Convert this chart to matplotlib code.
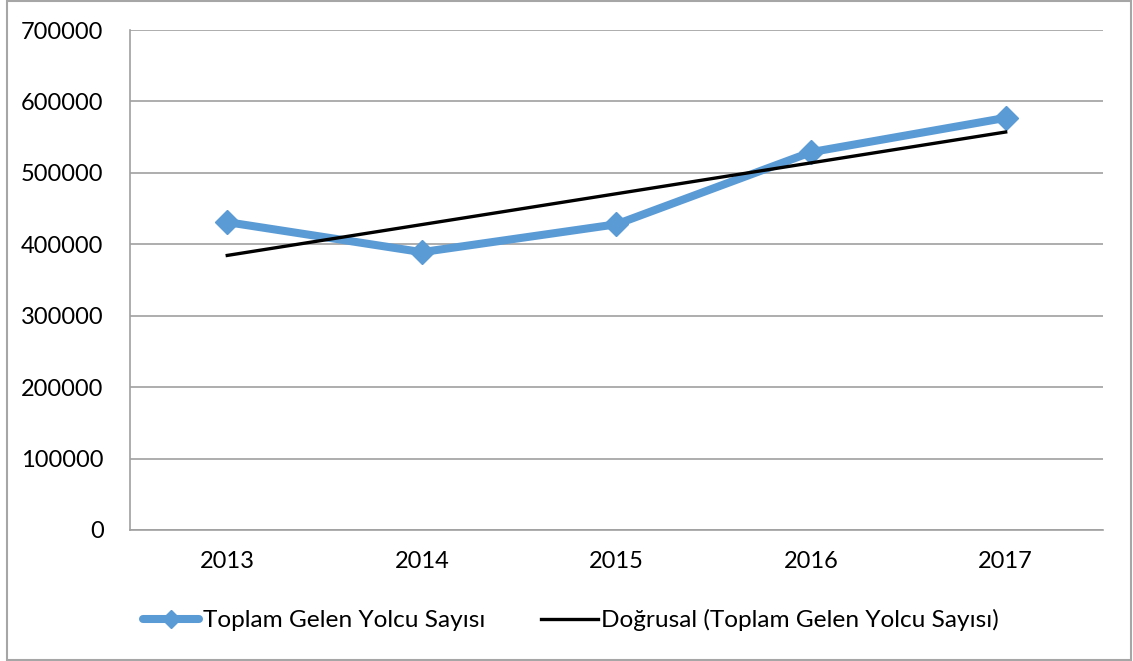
import numpy as np
import matplotlib.pyplot as plt
from matplotlib.patches import Rectangle

plt.rcParams['font.family'] = ['Lato', 'DejaVu Sans']

# Toplam gelen yolcu sayısı, yıllara göre
years = ['2013', '2014', '2015', '2016', '2017']
passengers = [431000, 389000, 428000, 529000, 577000]

x = np.arange(len(years))
# Doğrusal eğilim çizgisi (en küçük kareler)
slope, intercept = np.polyfit(x, passengers, 1)
trend = slope * x + intercept

fig = plt.figure(figsize=(11.33, 6.61), dpi=100)
ax = fig.add_axes([0.1147, 0.1982, 0.8588, 0.7564])

grid_col = '#a0a0a0'
ax.set_ylim(0, 700000)
ax.set_yticks(range(0, 700001, 100000))
ax.set_xlim(-0.5, len(years) - 0.5)
ax.set_xticks(x)
ax.set_xticklabels(years)
ax.yaxis.grid(True, color=grid_col, linewidth=1.2)
ax.set_axisbelow(True)

ax.plot(x, passengers, color='#5B9BD5', linewidth=5.8, marker='D',
        markersize=12, solid_capstyle='round',
        label='Toplam Gelen Yolcu Sayısı', zorder=3)
ax.plot(x, trend, color='black', linewidth=2.4,
        label='Doğrusal (Toplam Gelen Yolcu Sayısı)', zorder=4)

for side in ['top', 'right']:
    ax.spines[side].set_visible(False)
for side in ['left', 'bottom']:
    ax.spines[side].set_color(grid_col)
    ax.spines[side].set_linewidth(1.2)

ax.tick_params(axis='both', length=0, labelsize=17, colors='black')
ax.tick_params(axis='y', pad=19)
ax.tick_params(axis='x', pad=15)

leg = fig.legend(loc='center', bbox_to_anchor=(0.504, 0.062), ncol=2,
                 frameon=False, fontsize=17.6, handlelength=2.3,
                 handletextpad=0.15, columnspacing=2.3, markerscale=0.75)

# çerçeve
fig.patches.append(Rectangle((0.006, 0.002), 0.992, 0.996, transform=fig.transFigure,
                             fill=False, edgecolor='#a6a6a6', linewidth=1.5))

fig.savefig('out.png', dpi=100)
